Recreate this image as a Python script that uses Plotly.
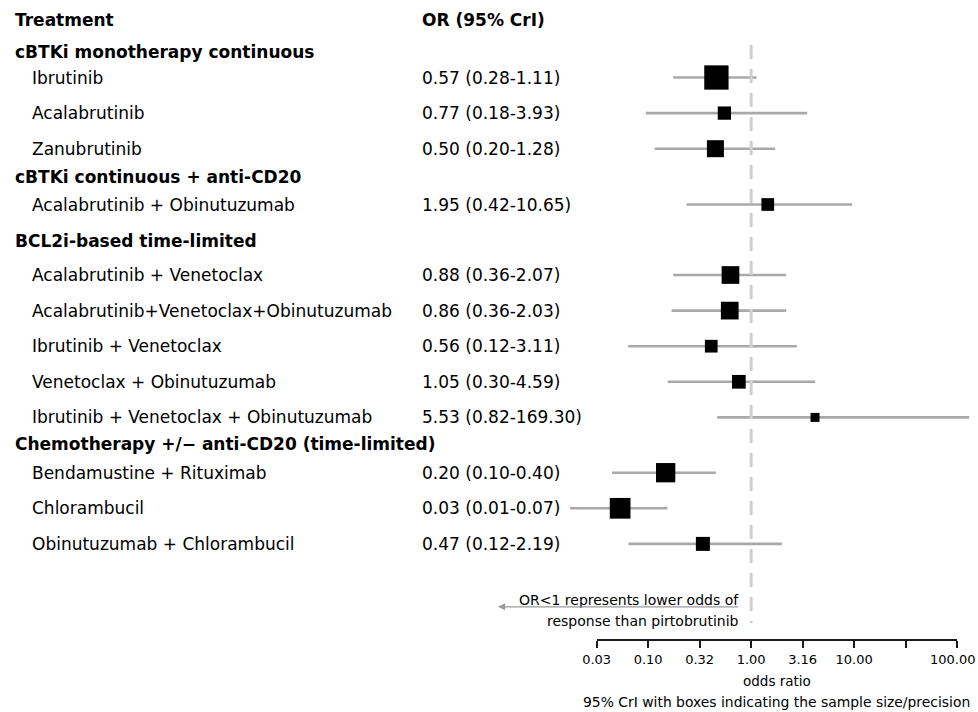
import math
import plotly.graph_objects as go

# ---------------- data ----------------
groups = [
    "cBTKi monotherapy continuous",
    "cBTKi continuous + anti-CD20",
    "BCL2i-based time-limited",
    "Chemotherapy +/\u2212 anti-CD20 (time-limited)",
]
group_of = [0, 0, 0, 1, 2, 2, 2, 2, 2, 3, 3, 3]
treatments = [
    "Ibrutinib",
    "Acalabrutinib",
    "Zanubrutinib",
    "Acalabrutinib + Obinutuzumab",
    "Acalabrutinib + Venetoclax",
    "Acalabrutinib+Venetoclax+Obinutuzumab",
    "Ibrutinib + Venetoclax",
    "Venetoclax + Obinutuzumab",
    "Ibrutinib + Venetoclax + Obinutuzumab",
    "Bendamustine + Rituximab",
    "Chlorambucil",
    "Obinutuzumab + Chlorambucil",
]
or_labels = [
    "0.57 (0.28-1.11)",
    "0.77 (0.18-3.93)",
    "0.50 (0.20-1.28)",
    "1.95 (0.42-10.65)",
    "0.88 (0.36-2.07)",
    "0.86 (0.36-2.03)",
    "0.56 (0.12-3.11)",
    "1.05 (0.30-4.59)",
    "5.53 (0.82-169.30)",
    "0.20 (0.10-0.40)",
    "0.03 (0.01-0.07)",
    "0.47 (0.12-2.19)",
]
# plotted estimates and interval ends
or_point = [0.46, 0.55, 0.45, 1.45, 0.63, 0.62, 0.41, 0.76, 4.17, 0.148, 0.0535, 0.34]
or_low = [0.175, 0.095, 0.116, 0.236, 0.175, 0.169, 0.064, 0.155, 0.468, 0.0447, 0.0175, 0.0645]
or_high = [1.13, 3.50, 1.71, 9.56, 2.19, 2.19, 2.78, 4.18, 130.8, 0.454, 0.154, 1.99]
box_weight = [2.43, 1.33, 1.70, 1.27, 1.77, 1.77, 1.27, 1.37, 0.90, 1.93, 2.07, 1.40]
null_or = 1.0
tick_values = [10 ** -1.5, 0.1, 10 ** -0.5, 1.0, 10 ** 0.5, 10.0, 10 ** 1.5, 100.0]
tick_labels = ["0.03", "0.10", "0.32", "1.00", "3.16", "10.00", "", "100.00"]

# ---------------- layout constants ----------------
W, H = 978, 712
FONT = "DejaVu Sans"
AX_LEFT_PX, AX_RIGHT_PX = 596.6, 957.2      # ends of the drawn odds-ratio axis
AX_LINE_PX = 639                             # vertical pixel of the axis line
LOG_MIN, LOG_MAX = -1.5, 2.0
PX_PER_DEC = (AX_RIGHT_PX - AX_LEFT_PX) / (LOG_MAX - LOG_MIN)


def log_at(px):
    return LOG_MIN + (px - AX_LEFT_PX) / PX_PER_DEC


ROW_STEP = 35.6
COL_HEADER_Y = 20
gap_before_header = [31.7, 28.5, 36.0, 26.5]
gap_after_header = [25.8, 27.3, 34.5, 28.8]

header_y = []
row_y = [None] * len(treatments)
cursor = COL_HEADER_Y
for g in range(len(groups)):
    cursor += gap_before_header[g]
    header_y.append(cursor)
    cursor += gap_after_header[g]
    first = True
    for i, gi in enumerate(group_of):
        if gi == g:
            if not first:
                cursor += ROW_STEP
            row_y[i] = cursor
            first = False

# ---------------- traces ----------------
ci_x, ci_y = [], []
for lo, hi, y in zip(or_low, or_high, row_y):
    ci_x += [lo, hi, None]
    ci_y += [y, y, None]

fig = go.Figure()
# reference line at OR = 1 (drawn on the visible axis)
fig.add_trace(go.Scatter(
    x=[null_or, null_or], y=[45, 623], mode="lines",
    line=dict(color="#cfcfcf", width=3, dash="14px,10px"),
    hoverinfo="skip", showlegend=False, xaxis="x2", yaxis="y",
))
fig.add_trace(go.Scatter(
    x=ci_x, y=ci_y, mode="lines",
    line=dict(color="#a9a9a9", width=2.6),
    hoverinfo="skip", showlegend=False, xaxis="x", yaxis="y",
))
fig.add_trace(go.Scatter(
    x=or_point, y=row_y, mode="markers",
    marker=dict(symbol="square", color="black", opacity=1,
                size=[10 * w for w in box_weight], line=dict(width=0)),
    text=treatments, hovertemplate="%{text}: %{x:.2f}<extra></extra>",
    showlegend=False, xaxis="x", yaxis="y",
))

# ---------------- text ----------------
ann = []


def txt(text, xpx, y, size=17, bold=False, xanchor="left", yref="y"):
    ann.append(dict(
        text=f"<b>{text}</b>" if bold else text,
        x=xpx / W, xref="paper", y=y, yref=yref,
        xanchor=xanchor, yanchor="middle", showarrow=False,
        font=dict(family=FONT, size=size, color="black"),
    ))


txt("Treatment", 13, COL_HEADER_Y, bold=True)
txt("OR (95% CrI)", 420, COL_HEADER_Y, bold=True)
for g, name in enumerate(groups):
    txt(name, 13, header_y[g], bold=True)
for name, lab, y in zip(treatments, or_labels, row_y):
    txt(name, 30, y)
    txt(lab, 420, y)

txt("OR&lt;1 represents lower odds of", 741, 599.5, size=14, xanchor="right")
txt("response than pirtobrutinib", 741, 620.5, size=14, xanchor="right")
ann.append(dict(
    text=" ", x=498 / W, xref="paper", y=606.8, yref="y",
    showarrow=True, ax=243, ay=0, axref="pixel", ayref="pixel",
    arrowhead=2, arrowsize=1.1, arrowwidth=1.3, arrowcolor="#9a9a9a",
    standoff=0, startstandoff=0,
))
mid_axis = (AX_LEFT_PX + AX_RIGHT_PX) / 2
txt("odds ratio", mid_axis, (H - 681) / H, size=13.5, xanchor="center", yref="paper")
txt("95% CrI with boxes indicating the sample size/precision", mid_axis,
    (H - 701.5) / H, size=13.9, xanchor="center", yref="paper")

# the last tick label sits at the page edge: draw it right-aligned so it stays whole
axis_ticktext = list(tick_labels)
edge_label = axis_ticktext[-1]
axis_ticktext[-1] = ""
ann.append(dict(
    text=edge_label, x=1, xref="paper", y=(H - 659.5) / H, yref="paper",
    xanchor="right", yanchor="middle", showarrow=False,
    font=dict(family=FONT, size=13, color="black"),
))

fig.update_layout(
    template="none",
    width=W, height=H, autosize=False,
    margin=dict(l=0, r=0, t=0, b=0, pad=0),
    paper_bgcolor="white", plot_bgcolor="rgba(0,0,0,0)",
    showlegend=False,
    annotations=ann,
    xaxis=dict(type="log", domain=[0, 1], range=[log_at(0), log_at(W)],
               visible=False, fixedrange=True, automargin=False),
    xaxis2=dict(type="log", domain=[AX_LEFT_PX / W, AX_RIGHT_PX / W], anchor="y",
                range=[LOG_MIN, LOG_MAX], tickvals=tick_values, ticktext=axis_ticktext,
                ticks="outside", ticklen=7, tickwidth=1.8, tickcolor="#1a1a1a",
                showline=True, linewidth=1.8, linecolor="#1a1a1a",
                showgrid=False, zeroline=False, automargin=False,
                ticklabeloverflow="allow",
                tickfont=dict(family=FONT, size=13, color="black"), fixedrange=True),
    yaxis=dict(domain=[(H - AX_LINE_PX) / H, 1], range=[AX_LINE_PX, 0],
               visible=False, fixedrange=True, automargin=False),
)

fig.write_html(
    "out.html",
    config={"displayModeBar": False},
    post_script="document.body.style.margin='0px';document.body.style.padding='0px';",
)
